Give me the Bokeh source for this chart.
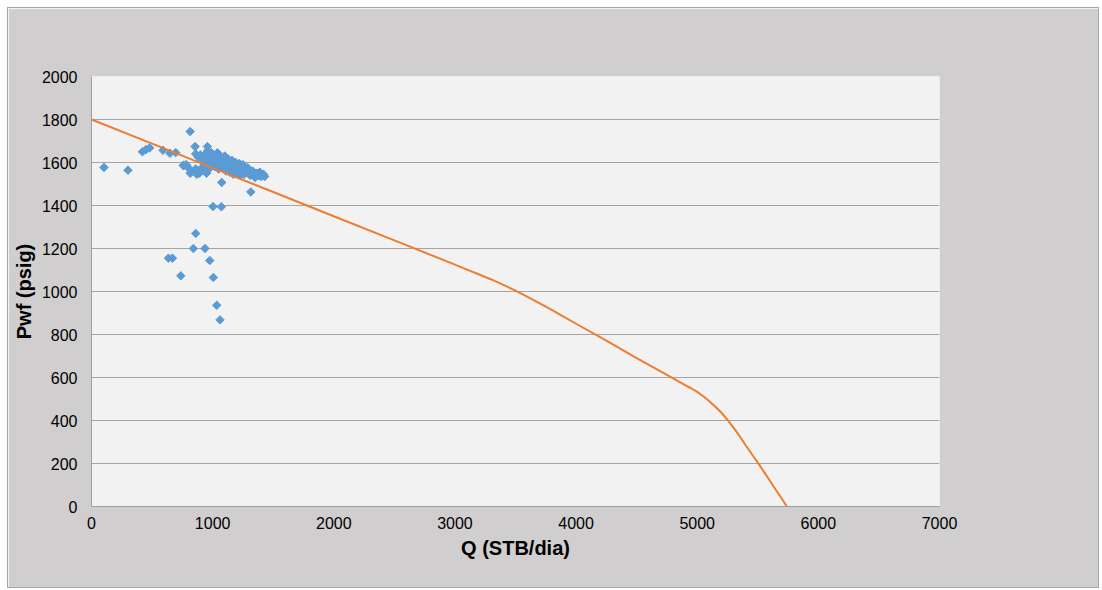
from bokeh.plotting import figure
from bokeh.models import ColumnDataSource, FixedTicker, Range1d
from bokeh.embed import file_html
from bokeh.resources import INLINE
import math

# IPR curve (Q in STB/dia, Pwf in psig)
curve_q = [0, 500, 1000, 1500, 2000, 2500, 3000, 3100, 3200, 3300, 3400, 3500, 3600,
           3700, 3800, 3900, 4000, 4250, 4500, 4750, 4900, 4950, 5000, 5050, 5100,
           5150, 5200, 5250, 5300, 5350, 5400, 5450, 5500, 5550, 5600, 5650, 5700, 5740]
curve_pwf = [1800, 1688, 1575, 1463, 1350, 1238, 1125, 1102, 1079, 1056, 1031, 1004, 975,
             945, 914, 882, 850, 772, 690, 612, 565, 550, 533, 513, 490,
             464, 436, 403, 367, 327, 285, 244, 204, 162, 120, 77, 35, 0]

# Measured well tests
test_q = [103, 301, 814, 420, 450, 480, 590, 648, 695, 758, 786, 814, 855, 957,
          1075, 1315, 1003, 1072, 860, 841, 937, 635, 668, 976, 737, 1006, 1034, 1061,
          860, 880, 900, 920, 940, 950, 960, 970, 980, 990, 1000, 1010, 1020, 1030,
          1040, 1050, 1060, 1070, 1080, 1090, 1100, 1110, 1120, 1130, 1140, 1150,
          1160, 1170, 1180, 1190, 1200, 1210, 1220, 1230, 1240, 1250, 1260, 1270,
          1280, 1300, 1310, 1320, 1340, 1350, 1360, 1380, 1390, 1400, 1420, 1430,
          760, 780, 800, 820, 840, 860, 870, 890, 900, 910, 930, 950, 970, 990,
          930, 960, 1000, 1020, 1050, 1080, 1110, 1140, 1170, 1200, 1230,
          1040, 1060, 1100, 1130, 1160, 1190, 1220, 1250, 1290, 1330, 1370, 1410]
test_pwf = [1577, 1564, 1744, 1650, 1660, 1668, 1657, 1643, 1646, 1587, 1587, 1550, 1674, 1674,
            1507, 1463, 1395, 1394, 1270, 1200, 1200, 1155, 1155, 1144, 1073, 1065, 936, 868,
            1640, 1625, 1635, 1610, 1640, 1620, 1655, 1600, 1630, 1645, 1615, 1600, 1635, 1620,
            1605, 1625, 1590, 1615, 1600, 1620, 1585, 1605, 1595, 1575, 1600, 1580,
            1590, 1565, 1585, 1570, 1580, 1560, 1575, 1555, 1585, 1565, 1545, 1570,
            1555, 1560, 1540, 1555, 1545, 1530, 1550, 1540, 1555, 1535, 1545, 1535,
            1585, 1590, 1575, 1555, 1560, 1570, 1545, 1550, 1560, 1575, 1565, 1550, 1570, 1585,
            1595, 1585, 1600, 1580, 1570, 1575, 1560, 1555, 1545, 1550, 1540,
            1645, 1630, 1630, 1615, 1610, 1600, 1595, 1590, 1575, 1560, 1550, 1540]

x_ticks = [0, 1000, 2000, 3000, 4000, 5000, 6000, 7000]
y_ticks = [0, 200, 400, 600, 800, 1000, 1200, 1400, 1600, 1800, 2000]

p = figure(width=1092, height=581, output_backend="svg", toolbar_location=None,
           x_range=Range1d(0, 7000), y_range=Range1d(0, 2000),
           min_border_left=83, min_border_right=161, min_border_top=68, min_border_bottom=83)
p.styles = {"border": "1px solid #a6a6a6", "margin-left": "7px", "margin-top": "7px"}
p.background_fill_color = "#f2f2f2"
p.border_fill_color = "#d0cece"
p.outline_line_color = None

p.xgrid.grid_line_color = None
p.ygrid.grid_line_color = "#a5a5a5"
p.ygrid.grid_line_width = 1

p.xaxis.ticker = FixedTicker(ticks=x_ticks)
p.yaxis.ticker = FixedTicker(ticks=y_ticks)
for ax in (p.xaxis[0], p.yaxis[0]):
    ax.axis_line_color = "#a0a0a0"
    ax.axis_line_width = 1
    ax.major_tick_line_color = None
    ax.minor_tick_line_color = None
    ax.major_label_text_font = "Liberation Sans"
    ax.major_label_text_font_size = "16px"
    ax.major_label_text_color = "#000000"
    ax.axis_label_text_font = "Liberation Sans"
    ax.axis_label_text_font_size = "20px"
    ax.axis_label_text_font_style = "bold"
    ax.axis_label_text_color = "#000000"

p.xaxis.axis_label = "Q (STB/dia)"
p.yaxis.axis_label = "Pwf (psig)"
p.yaxis.major_label_standoff = 8
p.xaxis.major_label_standoff = 4
p.yaxis.axis_label_standoff = 4
p.xaxis.axis_label_standoff = 5

src_c = ColumnDataSource(dict(q=curve_q, pwf=curve_pwf))
src_t = ColumnDataSource(dict(q=test_q, pwf=test_pwf))

p.scatter("q", "pwf", source=src_t, marker="square", size=6, angle=math.pi / 4,
          fill_color="#5b9bd5", line_color="#5b9bd5", line_width=1)
p.line("q", "pwf", source=src_c, line_color="#ed7d31", line_width=2)

open("out.html", "w").write(file_html(p, INLINE))
